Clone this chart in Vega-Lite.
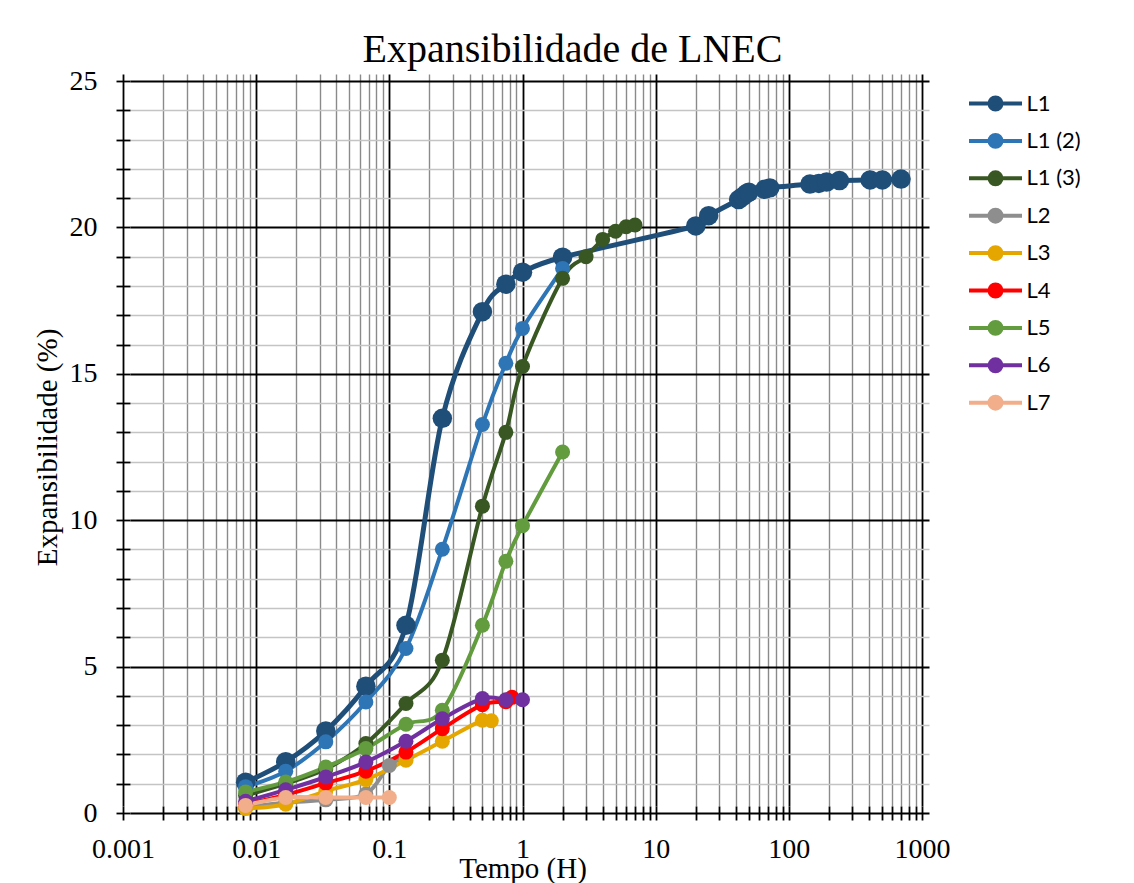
{
  "$schema": "https://vega.github.io/schema/vega-lite/v6.json",
  "width": 799,
  "height": 732,
  "autosize": {"type": "none"},
  "padding": {"left": 123, "top": 81, "right": 212, "bottom": 70},
  "background": "white",
  "title": {
    "text": "Expansibilidade de LNEC",
    "font": "Liberation Serif",
    "fontSize": 40,
    "fontWeight": "normal",
    "color": "black",
    "anchor": "middle",
    "dx": 50,
    "offset": -3
  },
  "config": {
    "view": {"stroke": null},
    "axis": {
      "labelFont": "Liberation Serif",
      "labelFontSize": 28,
      "labelColor": "black",
      "titleFont": "Liberation Serif",
      "titleFontSize": 29,
      "titleFontWeight": "normal",
      "titleColor": "black",
      "tickColor": "black",
      "tickWidth": 1.8,
      "tickSize": 14,
      "offset": -7,
      "domain": false,
      "labelOverlap": false,
      "labelFlush": false,
      "grid": true
    }
  },
  "data": {
    "values": [
      {"serie": "L1", "t": 0.00833, "e": 1.05},
      {"serie": "L1", "t": 0.01667, "e": 1.75},
      {"serie": "L1", "t": 0.03333, "e": 2.8},
      {"serie": "L1", "t": 0.06667, "e": 4.33},
      {"serie": "L1", "t": 0.13333, "e": 6.41},
      {"serie": "L1", "t": 0.25, "e": 13.48},
      {"serie": "L1", "t": 0.5, "e": 17.12},
      {"serie": "L1", "t": 0.75, "e": 18.06},
      {"serie": "L1", "t": 1, "e": 18.47},
      {"serie": "L1", "t": 2, "e": 18.98},
      {"serie": "L1", "t": 20, "e": 20.05},
      {"serie": "L1", "t": 25, "e": 20.4},
      {"serie": "L1", "t": 42, "e": 20.95},
      {"serie": "L1", "t": 45, "e": 21.05},
      {"serie": "L1", "t": 48, "e": 21.15},
      {"serie": "L1", "t": 50, "e": 21.2},
      {"serie": "L1", "t": 66, "e": 21.3},
      {"serie": "L1", "t": 72, "e": 21.35},
      {"serie": "L1", "t": 144, "e": 21.48},
      {"serie": "L1", "t": 168, "e": 21.5},
      {"serie": "L1", "t": 192, "e": 21.55},
      {"serie": "L1", "t": 240, "e": 21.6},
      {"serie": "L1", "t": 408, "e": 21.62},
      {"serie": "L1", "t": 504, "e": 21.62},
      {"serie": "L1", "t": 696, "e": 21.65},

      {"serie": "L1 (2)", "t": 0.00833, "e": 0.9},
      {"serie": "L1 (2)", "t": 0.01667, "e": 1.43},
      {"serie": "L1 (2)", "t": 0.03333, "e": 2.43},
      {"serie": "L1 (2)", "t": 0.06667, "e": 3.79},
      {"serie": "L1 (2)", "t": 0.13333, "e": 5.62},
      {"serie": "L1 (2)", "t": 0.25, "e": 9.01},
      {"serie": "L1 (2)", "t": 0.5, "e": 13.27},
      {"serie": "L1 (2)", "t": 0.75, "e": 15.36},
      {"serie": "L1 (2)", "t": 1, "e": 16.55},
      {"serie": "L1 (2)", "t": 2, "e": 18.6},

      {"serie": "L1 (3)", "t": 0.00833, "e": 0.6},
      {"serie": "L1 (3)", "t": 0.01667, "e": 1.0},
      {"serie": "L1 (3)", "t": 0.03333, "e": 1.5},
      {"serie": "L1 (3)", "t": 0.06667, "e": 2.37},
      {"serie": "L1 (3)", "t": 0.13333, "e": 3.74},
      {"serie": "L1 (3)", "t": 0.25, "e": 5.22},
      {"serie": "L1 (3)", "t": 0.5, "e": 10.48},
      {"serie": "L1 (3)", "t": 0.75, "e": 13.0},
      {"serie": "L1 (3)", "t": 1, "e": 15.25},
      {"serie": "L1 (3)", "t": 2, "e": 18.26},
      {"serie": "L1 (3)", "t": 3, "e": 19.0},
      {"serie": "L1 (3)", "t": 4, "e": 19.59},
      {"serie": "L1 (3)", "t": 5, "e": 19.87},
      {"serie": "L1 (3)", "t": 6, "e": 20.02},
      {"serie": "L1 (3)", "t": 7, "e": 20.08},

      {"serie": "L2", "t": 0.00833, "e": 0.2},
      {"serie": "L2", "t": 0.01667, "e": 0.35},
      {"serie": "L2", "t": 0.03333, "e": 0.45},
      {"serie": "L2", "t": 0.06667, "e": 0.65},
      {"serie": "L2", "t": 0.1, "e": 1.62},
      {"serie": "L2", "t": 0.13333, "e": 1.88},

      {"serie": "L3", "t": 0.00833, "e": 0.15},
      {"serie": "L3", "t": 0.01667, "e": 0.3},
      {"serie": "L3", "t": 0.03333, "e": 0.75},
      {"serie": "L3", "t": 0.06667, "e": 1.14},
      {"serie": "L3", "t": 0.13333, "e": 1.8},
      {"serie": "L3", "t": 0.25, "e": 2.45},
      {"serie": "L3", "t": 0.5, "e": 3.17},
      {"serie": "L3", "t": 0.58333, "e": 3.15},

      {"serie": "L4", "t": 0.00833, "e": 0.3},
      {"serie": "L4", "t": 0.01667, "e": 0.62},
      {"serie": "L4", "t": 0.03333, "e": 1.02},
      {"serie": "L4", "t": 0.06667, "e": 1.43},
      {"serie": "L4", "t": 0.13333, "e": 2.08},
      {"serie": "L4", "t": 0.25, "e": 2.88},
      {"serie": "L4", "t": 0.5, "e": 3.7},
      {"serie": "L4", "t": 0.75, "e": 3.8},
      {"serie": "L4", "t": 0.83333, "e": 3.95},

      {"serie": "L5", "t": 0.00833, "e": 0.72},
      {"serie": "L5", "t": 0.01667, "e": 1.06},
      {"serie": "L5", "t": 0.03333, "e": 1.57},
      {"serie": "L5", "t": 0.06667, "e": 2.2},
      {"serie": "L5", "t": 0.13333, "e": 3.03},
      {"serie": "L5", "t": 0.25, "e": 3.51},
      {"serie": "L5", "t": 0.5, "e": 6.41},
      {"serie": "L5", "t": 0.75, "e": 8.6},
      {"serie": "L5", "t": 1, "e": 9.81},
      {"serie": "L5", "t": 2, "e": 12.33},

      {"serie": "L6", "t": 0.00833, "e": 0.4},
      {"serie": "L6", "t": 0.01667, "e": 0.79},
      {"serie": "L6", "t": 0.03333, "e": 1.23},
      {"serie": "L6", "t": 0.06667, "e": 1.74},
      {"serie": "L6", "t": 0.13333, "e": 2.45},
      {"serie": "L6", "t": 0.25, "e": 3.22},
      {"serie": "L6", "t": 0.5, "e": 3.91},
      {"serie": "L6", "t": 0.75, "e": 3.87},
      {"serie": "L6", "t": 1, "e": 3.87},

      {"serie": "L7", "t": 0.00833, "e": 0.26},
      {"serie": "L7", "t": 0.01667, "e": 0.53},
      {"serie": "L7", "t": 0.03333, "e": 0.53},
      {"serie": "L7", "t": 0.06667, "e": 0.53},
      {"serie": "L7", "t": 0.1, "e": 0.53}
    ]
  },
  "encoding": {
    "x": {
      "field": "t",
      "type": "quantitative",
      "scale": {"type": "log", "domain": [0.001, 1000], "nice": false},
      "axis": {
        "values": [0.001, 0.002, 0.003, 0.004, 0.005, 0.006, 0.007, 0.008, 0.009,
                   0.01, 0.02, 0.03, 0.04, 0.05, 0.06, 0.07, 0.08, 0.09,
                   0.1, 0.2, 0.3, 0.4, 0.5, 0.6, 0.7, 0.8, 0.9,
                   1, 2, 3, 4, 5, 6, 7, 8, 9,
                   10, 20, 30, 40, 50, 60, 70, 80, 90,
                   100, 200, 300, 400, 500, 600, 700, 800, 900, 1000],
        "format": "~g",
        "labelExpr": "indexof([0.001, 0.01, 0.1, 1, 10, 100, 1000], datum.value) >= 0 ? datum.label : ''",
        "labelPadding": 15,
        "title": "Tempo (H)",
        "titlePadding": -9,
        "gridColor": {
          "condition": {"test": "indexof([0.001, 0.01, 0.1, 1, 10, 100, 1000], datum.value) >= 0", "value": "black"},
          "value": "#8a8a8a"
        },
        "gridWidth": {
          "condition": {"test": "indexof([0.001, 0.01, 0.1, 1, 10, 100, 1000], datum.value) >= 0", "value": 1.8},
          "value": 1.4
        }
      }
    },
    "y": {
      "field": "e",
      "type": "quantitative",
      "scale": {"domain": [0, 25], "nice": false},
      "axis": {
        "values": [0, 1, 2, 3, 4, 5, 6, 7, 8, 9, 10, 11, 12, 13, 14, 15, 16, 17, 18, 19, 20, 21, 22, 23, 24, 25],
        "labelExpr": "datum.value % 5 === 0 ? datum.label : ''",
        "labelPadding": 19,
        "title": "Expansibilidade (%)",
        "titlePadding": 7,
        "gridColor": {
          "condition": {"test": "datum.value % 5 === 0", "value": "black"},
          "value": "#c4c4c4"
        },
        "gridWidth": {
          "condition": {"test": "datum.value % 5 === 0", "value": 1.8},
          "value": 1.4
        }
      }
    },
    "color": {
      "field": "serie",
      "type": "nominal",
      "scale": {
        "domain": ["L1", "L1 (2)", "L1 (3)", "L2", "L3", "L4", "L5", "L6", "L7"],
        "range": ["#1F4E79", "#2E75B6", "#385723", "#8E8E8E", "#E5A600", "#FF0000", "#629C3E", "#7030A0", "#F2AE8A"]
      },
      "legend": {
        "orient": "none",
        "legendX": 857,
        "legendY": 7,
        "title": null,
        "padding": 0,
        "symbolType": "M-2,0L2,0M0.45,0A0.45,0.45,0,1,1,-0.45,0A0.45,0.45,0,1,1,0.45,0Z",
        "symbolSize": 702,
        "symbolStrokeWidth": 4,
        "symbolOpacity": 1,
        "labelFont": "Lato",
        "labelFontSize": 22,
        "labelColor": "black",
        "labelOffset": 15.5,
        "rowPadding": 7.4,
        "encode": {
          "symbols": {
            "update": {
              "fill": {"scale": "color", "field": "value"},
              "stroke": {"scale": "color", "field": "value"},
              "opacity": {"value": 1}
            }
          }
        }
      }
    }
  },
  "layer": [
    {
      "mark": {"type": "line", "interpolate": "cardinal"},
      "encoding": {
        "strokeWidth": {"condition": {"test": "datum.serie === 'L1'", "value": 5}, "value": 4}
      }
    },
    {
      "mark": {"type": "circle", "opacity": 1},
      "encoding": {
        "size": {"condition": {"test": "datum.serie === 'L1'", "value": 380}, "value": 225}
      }
    }
  ]
}
